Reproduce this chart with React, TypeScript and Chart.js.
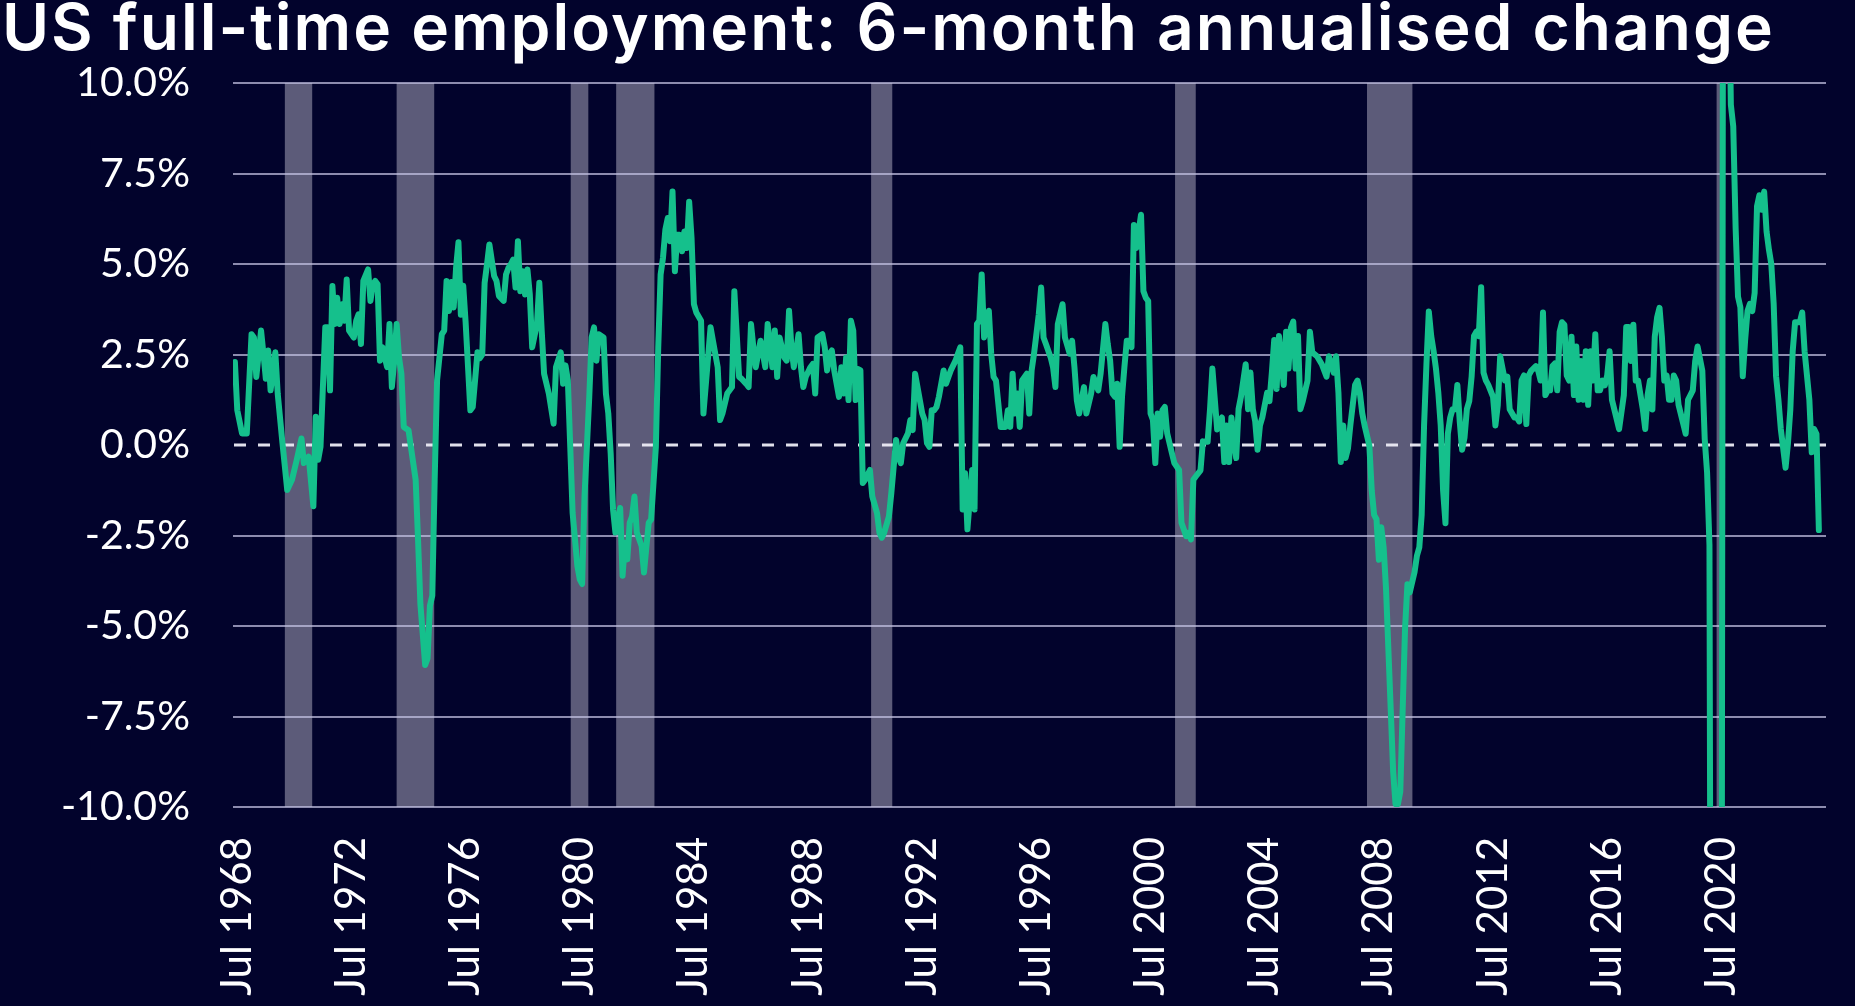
import React, { useEffect, useRef } from "react";
import { Chart, registerables } from "chart.js";

Chart.register(...registerables);

const CHART_TITLE = "US full-time employment: 6-month annualised change";

// x = months after Jul 1968 (as positioned on the chart), y = 6-month annualised % change
const months1968to1979 = [
  -1, 0, 2, 4, 6, 7, 8, 10, 11, 12,
  13, 14, 16, 17, 19, 20, 21, 23, 25, 27,
  28, 30, 32, 33, 34, 35, 37, 38, 39, 40,
  41, 42, 43, 44, 45, 46, 47, 49, 50, 51,
  52, 53, 55, 56, 57, 58, 59, 60, 61, 63,
  64, 65, 66, 67, 68, 69, 70, 72, 73, 75,
  76, 77, 79, 80, 81, 82, 83, 84, 86, 87,
  88, 89, 90, 91, 92, 93, 94, 95, 96, 98,
  99, 100, 101, 102, 103, 104, 105, 106, 108, 109,
  110, 112, 113, 114, 115, 116, 117, 118, 119, 120,
  121, 122, 123, 124, 126, 127, 128, 129, 131, 133,
];
const values1968to1979 = [
  2.29, 0.96, 0.32, 0.32, 3.06, 2.97, 1.88, 3.16, 2.52, 1.83,
  2.61, 1.51, 2.56, 1.42, 0.05, -0.59, -1.24, -0.96, -0.41, 0.18,
  -0.5, -0.32, -1.69, 0.78, -0.41, -0.05, 3.25, 3.25, 1.51, 4.39,
  3.34, 4.07, 3.34, 3.89, 3.43, 4.57, 3.16, 2.97, 3.43, 3.61,
  2.79, 4.53, 4.85, 3.98, 4.44, 4.53, 4.44, 2.33, 2.7, 2.15,
  3.34, 1.6, 2.33, 3.34, 2.42, 1.97, 0.5, 0.41, -0.05, -0.96,
  -2.61, -4.4, -6.08, -5.9, -4.44, -4.16, -0.96, 1.78, 3.06, 3.16,
  4.53, 3.7, 4.5, 3.8, 4.9, 5.6, 3.6, 4.4, 3.4, 0.96,
  1.05, 1.8, 2.56, 2.4, 2.5, 4.48, 4.99, 5.54, 4.67, 4.53,
  4.12, 3.98, 4.71, 4.89, 4.99, 5.12, 4.35, 5.63, 4.25, 4.8,
  4.16, 4.85, 4.16, 2.7, 3.34, 4.48, 3.16, 1.97, 1.42, 0.59,
];

const months1979to1991 = [
  134, 136, 137, 138, 139, 140, 141, 143, 144, 145,
  146, 148, 149, 150, 151, 152, 154, 155, 156, 157,
  158, 159, 161, 162, 163, 164, 165, 166, 167, 168,
  170, 171, 173, 174, 176, 177, 178, 179, 180, 181,
  182, 183, 184, 185, 186, 187, 188, 189, 190, 191,
  192, 193, 195, 196, 199, 200, 202, 203, 204, 206,
  208, 209, 210, 211, 212, 214, 215, 216, 217, 218,
  220, 221, 222, 223, 225, 226, 227, 228, 230, 231,
  232, 233, 234, 236, 237, 238, 239, 241, 242, 243,
  244, 246, 247, 248, 249, 250, 251, 253, 254, 255,
  256, 257, 258, 259, 260, 261, 262, 263, 264, 266,
  267, 269, 270,
];
const values1979to1991 = [
  2.15, 2.56, 1.69, 2.2, 1.78, -0.05, -1.88, -3.34, -3.71, -3.84,
  -1.42, 1.33, 2.97, 3.25, 2.33, 3.06, 2.97, 1.42, 0.87, -0.23,
  -1.78, -2.42, -1.74, -3.61, -2.7, -3.16, -2.15, -1.97, -1.42, -2.42,
  -2.79, -3.52, -2.15, -2.06, -0.05, 2.7, 4.71, 5.17, 5.95, 6.27,
  5.63, 7.0, 4.8, 5.81, 5.81, 5.35, 5.9, 5.44, 6.72, 5.72,
  3.89, 3.66, 3.43, 0.87, 3.25, 2.88, 2.15, 0.69, 0.87, 1.42,
  1.6, 4.25, 3.06, 1.88, 1.83, 1.69, 1.6, 3.34, 2.7, 2.15,
  2.88, 2.52, 2.15, 3.34, 2.15, 3.16, 1.88, 2.97, 2.42, 2.33,
  3.71, 2.7, 2.15, 3.06, 2.15, 1.6, 1.88, 2.15, 2.24, 1.42,
  2.97, 3.06, 2.7, 2.06, 2.52, 2.61, 2.06, 1.33, 2.15, 1.42,
  2.42, 1.24, 3.43, 3.16, 1.24, 2.1, 2.06, -1.05, -0.96, -0.69,
  -1.42, -1.88, -2.42,
];

const months1991to2002 = [
  271, 272, 274, 275, 277, 278, 279, 280, 282, 283,
  284, 285, 286, 288, 289, 290, 291, 292, 293, 294,
  295, 297, 298, 299, 300, 302, 303, 304, 305, 306,
  307, 309, 310, 311, 312, 313, 314, 316, 317, 318,
  319, 321, 323, 324, 325, 326, 327, 328, 329, 330,
  332, 333, 334, 335, 336, 337, 338, 339, 340, 342,
  343, 344, 345, 346, 347, 348, 350, 351, 352, 353,
  354, 356, 357, 359, 360, 362, 363, 365, 366, 367,
  368, 369, 370, 371, 372, 373, 374, 375, 376, 377,
  378, 380, 381, 382, 383, 384, 385, 386, 387, 388,
  389, 390, 391, 393, 394, 396, 397, 399, 400, 401,
  402, 403, 405, 406,
];
const values1991to2002 = [
  -2.56, -2.42, -1.97, -1.33, 0.14, -0.32, -0.5, 0.05, 0.32, 0.69,
  0.41, 1.97, 1.6, 0.87, 0.69, 0.05, -0.05, 0.96, 0.96, 1.05,
  1.33, 2.06, 1.69, 1.88, 2.06, 2.33, 2.52, 2.7, -1.78, -0.78,
  -2.33, -0.69, -1.78, 3.34, 3.43, 4.71, 2.97, 3.71, 2.52, 1.88,
  1.78, 0.5, 0.5, 0.96, 0.5, 1.97, 0.87, 1.42, 0.5, 1.78,
  1.97, 0.87, 2.06, 2.52, 3.06, 3.61, 4.35, 2.97, 2.79, 2.42,
  2.15, 1.6, 3.34, 3.61, 3.89, 2.97, 2.52, 2.88, 2.15, 1.24,
  0.87, 1.6, 0.87, 1.42, 1.88, 1.51, 1.97, 3.34, 2.79, 2.33,
  1.42, 1.33, 1.69, -0.05, 1.33, 2.15, 2.88, 2.88, 2.7, 6.08,
  5.44, 6.36, 4.25, 4.07, 3.98, 0.87, 0.69, -0.5, 0.87, 0.23,
  0.96, 1.05, 0.32, -0.23, -0.5, -0.69, -2.15, -2.52, -2.42, -2.61,
  -0.96, -0.87, -0.7, 0.1,
];

const months2002to2013 = [
  408, 409, 410, 412, 413, 414, 415, 416, 417, 418,
  420, 421, 422, 424, 425, 426, 427, 428, 429, 430,
  431, 433, 434, 435, 436, 437, 438, 440, 441, 442,
  443, 444, 445, 446, 447, 448, 450, 451, 452, 454,
  456, 458, 459, 461, 462, 463, 464, 465, 466, 467,
  468, 470, 471, 472, 473, 474, 476, 477, 478, 479,
  480, 481, 482, 483, 484, 485, 486, 487, 488, 489,
  490, 491, 492, 493, 495, 496, 497, 498, 499, 500,
  501, 502, 503, 504, 505, 506, 507, 508, 509, 510,
  511, 512, 513, 514, 515, 516, 517, 518, 519, 520,
  521, 522, 523, 524, 525, 526, 528, 529, 530, 531,
  532, 533, 534, 535, 537, 538, 539,
];
const values2002to2013 = [
  0.09, 0.99, 2.11, 0.43, 0.65, 0.76, -0.47, 0.54, -0.47, 0.76,
  -0.36, 0.99, 1.33, 2.23, 0.99, 2.0, 0.99, 0.65, -0.13, 0.54,
  0.76, 1.44, 1.21, 2.0, 2.9, 1.55, 3.01, 1.66, 3.13, 2.11,
  3.24, 3.41, 2.11, 3.01, 0.99, 1.21, 1.78, 3.13, 2.56, 2.45,
  2.23, 1.89, 2.45, 2.0, 2.45, 1.44, -0.47, 0.54, -0.36, -0.1,
  0.54, 1.66, 1.78, 1.44, 0.88, 0.54, -0.02, -1.26, -1.93, -2.05,
  -3.17, -2.27, -2.83, -3.96, -5.65, -7.33, -9.02, -9.92, -9.92, -9.58,
  -7.33, -5.08, -3.85, -4.07, -3.51, -3.06, -2.83, -1.93, 0.54, 2.23,
  3.69, 3.01, 2.6, 2.11, 1.44, 0.54, -1.26, -2.16, 0.31, 0.76,
  0.99, 0.99, 1.66, 0.65, -0.13, 0.2, 0.99, 1.21, 1.89, 3.01,
  3.13, 3.01, 4.36, 2.0, 1.78, 1.66, 1.33, 0.54, 1.1, 2.45,
  2.11, 1.78, 1.89, 0.99, 0.76, 0.76, 0.65,
];

const months2013to2024 = [
  540, 541, 542, 543, 544, 546, 547, 548, 549, 550,
  551, 552, 553, 554, 555, 556, 557, 558, 559, 560,
  561, 562, 563, 564, 565, 566, 567, 568, 569, 570,
  571, 572, 573, 574, 575, 576, 577, 578, 579, 580,
  581, 583, 584, 585, 586, 587, 588, 589, 590, 591,
  592, 593, 594, 595, 596, 597, 598, 599, 600, 601,
  602, 603, 604, 605, 606, 608, 609, 610, 611, 612,
  613, 614, 616, 617, 618, 619, 620, 621, 622, 623,
  624, 625, 626, 627, 628, 629, 630, 631, 632, 633,
  634, 635, 636, 637, 638, 639, 640, 641, 642, 643,
  644, 645, 646, 647, 648, 649, 650, 651, 652, 653,
  654, 655, 656, 657, 658, 659, 660, 661, 662, 663,
  664, 665,
];
const values2013to2024 = [
  1.78, 1.92, 0.58, 1.92, 2.05, 2.18, 2.05, 1.78, 3.66, 1.38,
  1.51, 1.51, 2.18, 2.25, 1.51, 3.12, 3.39, 3.32, 1.92, 1.78,
  2.99, 1.38, 2.72, 1.25, 2.32, 1.25, 2.59, 1.11, 2.59, 1.78,
  3.06, 1.51, 1.51, 1.78, 1.65, 1.92, 2.59, 1.25, 0.98, 0.71,
  0.44, 1.38, 3.26, 3.26, 2.32, 3.32, 1.78, 1.78, 1.38, 0.98,
  0.44, 1.38, 1.78, 0.98, 2.99, 3.53, 3.79, 2.99, 1.78, 1.92,
  1.25, 1.25, 1.92, 1.78, 1.11, 0.58, 0.31, 1.25, 1.38, 1.51,
  2.32, 2.72, 2.05, 0.17, -0.76, -2.77, -30, -32, -30, -28,
  -22, 30, 28, 14, 9.4, 8.8, 6.0, 4.1, 3.8, 1.9,
  2.9, 3.7, 3.9, 3.7, 4.2, 6.6, 6.9, 6.5, 7.0, 5.9,
  5.4, 5.0, 3.9, 1.9, 1.25, 0.44, -0.09, -0.63, 0.04, 0.98,
  2.59, 3.39, 3.39, 3.39, 3.66, 2.59, 1.92, 1.25, -0.2, 0.44,
  0.3, -2.35,
];

const monthIndex = [
  ...months1968to1979,
  ...months1979to1991,
  ...months1991to2002,
  ...months2002to2013,
  ...months2013to2024,
];
const annualisedChange = [
  ...values1968to1979,
  ...values1979to1991,
  ...values1991to2002,
  ...values2002to2013,
  ...values2013to2024,
];

const xTickMonths = [0, 48, 96, 144, 192, 240, 288, 336, 384, 432, 480, 528, 576, 624];
const xTickLabels = [
  "Jul 1968", "Jul 1972", "Jul 1976", "Jul 1980", "Jul 1984", "Jul 1988", "Jul 1992",
  "Jul 1996", "Jul 2000", "Jul 2004", "Jul 2008", "Jul 2012", "Jul 2016", "Jul 2020",
];

// recession shading (same month axis)
const recessionStart = [20, 67, 140.2, 159.3, 266.5, 394.3, 475, 622];
const recessionEnd = [31.5, 82.8, 147.6, 175.4, 275.4, 403, 494.1, 624.8];

const X_MIN = -1.8;
const X_MAX = 668;
const Y_MIN = -10;
const Y_MAX = 10;
const Y_STEP = 2.5;

const BG = "#02032c";
const GRID = "rgba(196,194,226,0.72)";
const BAND = "#5c5b79";
const LINE = "#15c08c";
const ZERO = "rgba(236,236,246,0.95)";
const TICK_FONT = "Lato";

const recessionPlugin = {
  id: "recessionBands",
  beforeDraw(chart: any) {
    const { ctx, chartArea, scales } = chart;
    const xs = scales.x;
    ctx.save();
    ctx.fillStyle = BAND;
    for (let i = 0; i < recessionStart.length; i++) {
      const a = xs.getPixelForValue(recessionStart[i]);
      const b = xs.getPixelForValue(recessionEnd[i]);
      ctx.fillRect(a, chartArea.top, b - a, chartArea.bottom - chartArea.top);
    }
    ctx.restore();
  },
};

const zeroLinePlugin = {
  id: "zeroLine",
  beforeDatasetsDraw(chart: any) {
    const { ctx, chartArea, scales } = chart;
    const y0 = scales.y.getPixelForValue(0);
    ctx.save();
    ctx.strokeStyle = ZERO;
    ctx.lineWidth = 3;
    ctx.setLineDash([12, 12]);
    ctx.beginPath();
    ctx.moveTo(chartArea.left + 1, y0);
    ctx.lineTo(chartArea.right, y0);
    ctx.stroke();
    ctx.restore();
  },
};

function EmploymentChart() {
  const ref = useRef<HTMLCanvasElement | null>(null);

  useEffect(() => {
    if (!ref.current) return;
    const chart = new Chart(ref.current, {
      type: "line",
      data: {
        datasets: [
          {
            data: monthIndex.map((m, i) => ({ x: m, y: annualisedChange[i] })),
            borderColor: LINE,
            borderWidth: 6,
            pointRadius: 0,
            tension: 0,
            fill: false,
            borderJoinStyle: "round",
            borderCapStyle: "round",
            clip: { left: 0, top: 0, right: 0, bottom: 0 },
          } as any,
        ],
      },
      options: {
        responsive: false,
        animation: false,
        devicePixelRatio: 1,
        layout: { padding: { top: 83, right: 29, bottom: 0, left: 0 } },
        plugins: {
          legend: { display: false },
          tooltip: { enabled: false },
          title: { display: false },
        },
        scales: {
          x: {
            type: "linear",
            min: X_MIN,
            max: X_MAX,
            grid: { display: false, drawTicks: false },
            border: { display: false },
            afterBuildTicks: (s: any) => {
              s.ticks = xTickMonths.map((v) => ({ value: v }));
            },
            afterFit: (s: any) => {
              s.height = 199;
            },
            ticks: {
              autoSkip: false,
              minRotation: 90,
              maxRotation: 90,
              padding: 30,
              color: "#ffffff",
              font: { family: TICK_FONT, size: 42 },
              callback: (v: any) => {
                const k = xTickMonths.indexOf(Number(v));
                return k >= 0 ? xTickLabels[k] : "";
              },
            },
          },
          y: {
            type: "linear",
            min: Y_MIN,
            max: Y_MAX,
            afterFit: (s: any) => {
              s.width = 233;
            },
            grid: {
              color: (c: any) => (c.tick && c.tick.value === 0 ? "rgba(0,0,0,0)" : GRID),
              lineWidth: 2,
              drawTicks: false,
            },
            border: { display: false },
            ticks: {
              stepSize: Y_STEP,
              padding: 43,
              color: "#ffffff",
              font: { family: TICK_FONT, size: 41 },
              callback: (v: any) => Number(v).toFixed(1) + "%",
            },
          },
        },
      } as any,
      plugins: [recessionPlugin, zeroLinePlugin],
    });
    return () => chart.destroy();
  }, []);

  return (
    <canvas
      ref={ref}
      width={1855}
      height={1006}
      style={{ position: "absolute", left: 0, top: 0, width: 1855, height: 1006 }}
    />
  );
}

export default function App() {
  return (
    <div
      style={{
        position: "fixed",
        left: 0,
        top: 0,
        width: 1855,
        height: 1006,
        background: BG,
        overflow: "hidden",
      }}
    >
      <EmploymentChart />
      <div
        style={{
          position: "absolute",
          left: 2,
          top: -5,
          color: "#ffffff",
          fontFamily: "Inter, 'Noto Sans', sans-serif",
          fontWeight: 600,
          fontSize: 64,
          lineHeight: "64px",
          letterSpacing: 2,
          whiteSpace: "nowrap",
        }}
      >
        {CHART_TITLE}
      </div>
    </div>
  );
}
